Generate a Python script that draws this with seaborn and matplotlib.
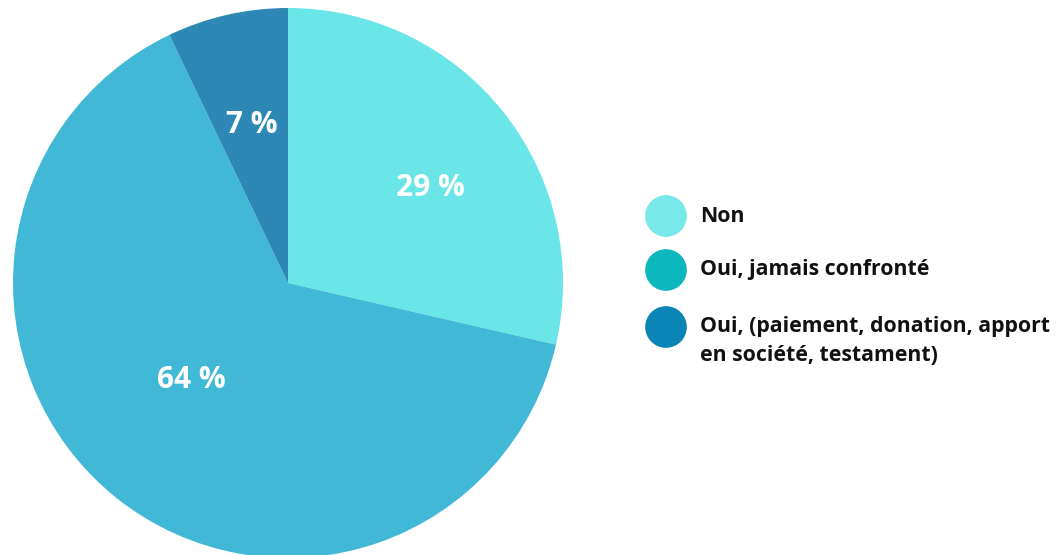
import numpy as np
import matplotlib.pyplot as plt
import seaborn as sns

labels = ['Non', 'Oui, jamais confronté', 'Oui, (paiement, donation, apport\nen société, testament)']
values = [28.6, 64.3, 7.1]  # parts, affichées arrondies
pie_colors = ['#6ae6e8', '#42b8d7', '#2e88b5']
legend_colors = ['#78e8ea', '#0cb8be', '#0a85b5']
label_dist = [0.63, 0.49, 0.6]
label_shift = [-4, -7, 0]  # degrés

sns.set_theme(style='white')
plt.rcParams['font.family'] = ['Open Sans', 'DejaVu Sans']

fig = plt.figure(figsize=(10.63, 5.55), dpi=100)

# Camembert
ax = fig.add_axes([13 / 1063, -3 / 555, 550 / 1063, 550 / 555])
wedges, _ = ax.pie(values, colors=pie_colors, startangle=90, counterclock=False,
                   radius=1, wedgeprops=dict(linewidth=0))
for w, v, d, s in zip(wedges, values, label_dist, label_shift):
    ang = np.deg2rad((w.theta1 + w.theta2) / 2 + s)
    ax.text(d * np.cos(ang), d * np.sin(ang) - 0.01, f'{round(v)} %', ha='center', va='center',
            color='white', fontsize=21.5, fontweight='bold')
ax.set_xlim(-1, 1)
ax.set_ylim(-1, 1)
ax.set_aspect('equal')
ax.axis('off')

# Légende
lax = fig.add_axes([0, 0, 1, 1])
lax.set_xlim(0, 1063)
lax.set_ylim(555, 0)
lax.axis('off')
leg_y = [216, 270, 327]
lax.scatter([666] * 3, leg_y, s=900, c=legend_colors, linewidths=0)
for y, lab in zip(leg_y, labels):
    ty = y + 14 if '\n' in lab else y
    lax.text(700, ty, lab, ha='left', va='center',
             fontsize=15.3, fontweight='bold', color='#111111', linespacing=1.45)

fig.savefig('out.png', dpi=100)
